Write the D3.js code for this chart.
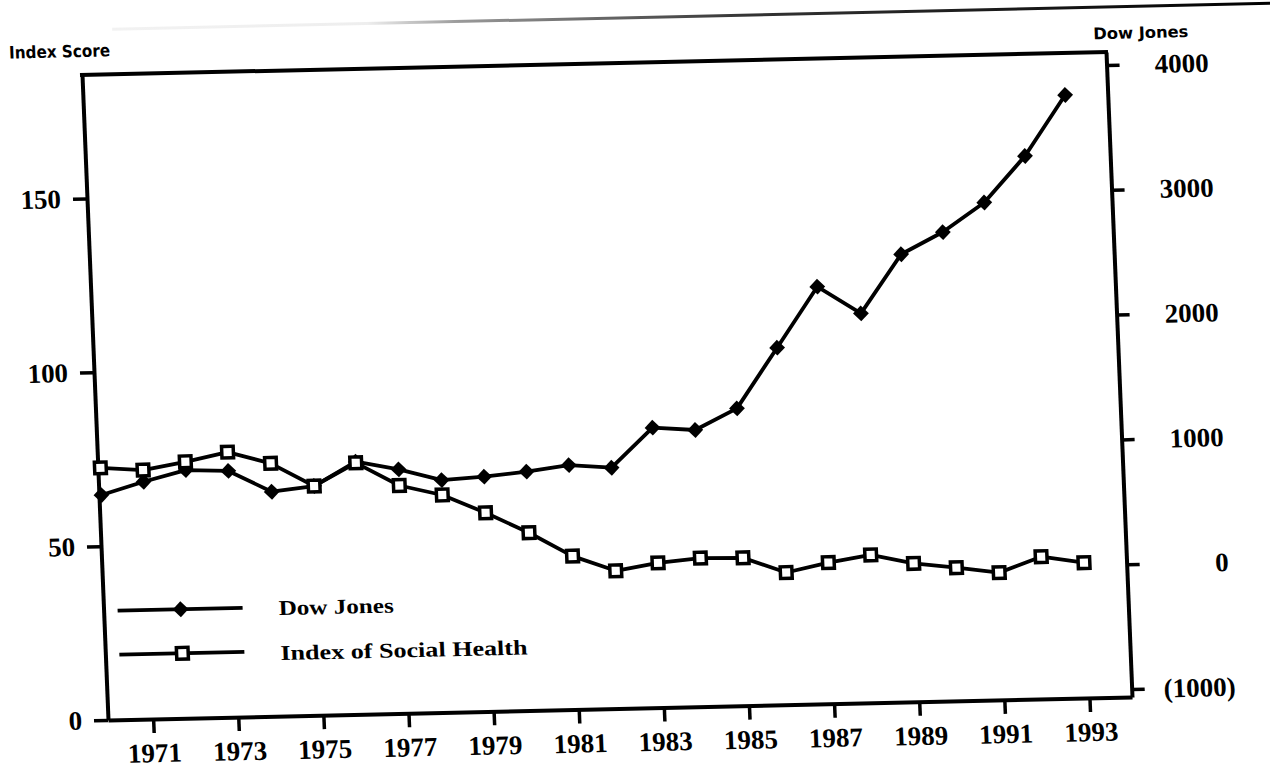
<!DOCTYPE html>
<html>
<head>
<meta charset="utf-8">
<script src="https://cdn.jsdelivr.net/npm/d3@7"></script>
<style>
  body { margin: 0; background: #fff; }
  svg { display: block; }
</style>
</head>
<body>
<div class="container"></div>
<script>
const years = [1970, 1971, 1972, 1973, 1974, 1975, 1976, 1977, 1978, 1979, 1980, 1981,
  1982, 1983, 1984, 1985, 1986, 1987, 1988, 1989, 1990, 1991, 1992, 1993];
const dowJones = [738, 837, 923, 908, 734, 772, 959, 890, 797, 816, 849, 894,
  865, 1178, 1152, 1318, 1796, 2277, 2056, 2522, 2692, 2921, 3286, 3767];
const socialHealth = [72.5, 71.6, 73.7, 76.2, 72.7, 65.9, 72.3, 65.5, 62.5, 57.1, 51.1, 44.1,
  39.6, 41.6, 42.7, 42.5, 38.0, 40.6, 42.5, 39.8, 38.3, 36.6, 40.9, 38.9];
const xTicks = [1971, 1973, 1975, 1977, 1979, 1981, 1983, 1985, 1987, 1989, 1991, 1993];
const leftTicks = [0, 50, 100, 150];
const rightTicks = [-1000, 0, 1000, 2000, 3000, 4000];
const seriesNames = ['Dow Jones', 'Index of Social Health'];

const width = 1270;
const height = 775;
const plotLeft = 108, plotRight = 1132, plotTop = 75, plotBottom = 720;

const svg = d3.select('.container')
  .append('svg')
  .attr('width', width)
  .attr('height', height);

// the page was scanned a little crooked, so everything sits in one skewed group
const g = svg.append('g')
  .attr('transform', 'matrix(1,-0.02246,0.0403,1,-29.02,2.43)');

const serif = 'Liberation Serif, Times New Roman, serif';
const sans = 'DejaVu Sans, Liberation Sans, sans-serif';

const x = d3.scaleLinear().domain([1969.94, 1994]).range([plotLeft, plotRight]);
const yLeft = d3.scaleLinear().domain([0, 185.5]).range([plotBottom, plotTop]);
const yRight = d3.scaleLinear().domain([-1064, 4104]).range([plotBottom, plotTop]);

// faint rule along the top edge of the page
const grad = svg.append('defs').append('linearGradient')
  .attr('id', 'rule')
  .attr('gradientUnits', 'userSpaceOnUse')
  .attr('x1', 140).attr('x2', 1300).attr('y1', 0).attr('y2', 0);
grad.append('stop').attr('offset', '0').attr('stop-color', '#f2f2f2');
grad.append('stop').attr('offset', '0.22').attr('stop-color', '#eee');
grad.append('stop').attr('offset', '0.3').attr('stop-color', '#999');
grad.append('stop').attr('offset', '0.55').attr('stop-color', '#333');
grad.append('stop').attr('offset', '1').attr('stop-color', '#000');
g.append('line')
  .attr('x1', 140).attr('x2', 1300)
  .attr('y1', 30).attr('y2', 30)
  .attr('stroke', 'url(#rule)')
  .attr('stroke-width', 3);

const styleAxis = (sel) => {
  sel.select('.domain').attr('stroke', '#000').attr('stroke-width', 4);
  sel.selectAll('.tick line').attr('stroke', '#000').attr('stroke-width', 3.5);
  sel.selectAll('.tick text')
    .attr('fill', '#000')
    .style('font-family', serif)
    .style('font-weight', 'bold')
    .style('font-size', '27px');
};

const xAxis = d3.axisBottom(x)
  .tickValues(xTicks)
  .tickFormat(d3.format('d'))
  .tickSize(14)
  .tickSizeOuter(0)
  .tickPadding(10);
g.append('g')
  .attr('id', 'x-axis')
  .attr('transform', `translate(0,${plotBottom})`)
  .call(xAxis)
  .call(styleAxis);

const leftAxis = d3.axisLeft(yLeft)
  .tickValues(leftTicks)
  .tickSize(14)
  .tickSizeOuter(0)
  .tickPadding(12);
g.append('g')
  .attr('id', 'y-axis-left')
  .attr('transform', `translate(${plotLeft},0)`)
  .call(leftAxis)
  .call(styleAxis);

const rightAxis = d3.axisRight(yRight)
  .tickValues(rightTicks)
  .tickFormat((d) => (d < 0 ? `(${-d})` : d))
  .tickSize(13)
  .tickSizeOuter(0);
const ra = g.append('g')
  .attr('id', 'y-axis-right')
  .attr('transform', `translate(${plotRight},0)`)
  .call(rightAxis)
  .call(styleAxis);
ra.selectAll('.tick text')
  .attr('text-anchor', 'end')
  .attr('x', (d) => (d < 0 ? 104 : 102));

// top edge of the box
g.append('line')
  .attr('x1', plotLeft - 2).attr('x2', plotRight + 2)
  .attr('y1', plotTop).attr('y2', plotTop)
  .attr('stroke', '#000')
  .attr('stroke-width', 4);

// axis titles
g.append('text')
  .attr('x', 36).attr('y', 57)
  .attr('textLength', 101)
  .attr('lengthAdjust', 'spacingAndGlyphs')
  .style('font-family', sans)
  .style('font-weight', 'bold')
  .style('font-size', '17px')
  .text('Index Score');
g.append('text')
  .attr('x', 1120).attr('y', 62)
  .attr('textLength', 95)
  .attr('lengthAdjust', 'spacingAndGlyphs')
  .style('font-family', sans)
  .style('font-weight', 'bold')
  .style('font-size', '16px')
  .text('Dow Jones');

const diamond = d3.symbol().type(d3.symbolSquare).size(125);
const square = d3.symbol().type(d3.symbolSquare).size(135);

// Dow Jones series
const dowLine = d3.line()
  .x((d, i) => x(years[i]))
  .y((d) => yRight(d));
g.append('path')
  .datum(dowJones)
  .attr('d', dowLine)
  .attr('fill', 'none')
  .attr('stroke', '#000')
  .attr('stroke-width', 3.8)
  .attr('stroke-linejoin', 'round');
g.selectAll('.dow')
  .data(dowJones)
  .enter()
  .append('path')
  .attr('class', 'dow')
  .attr('d', diamond)
  .attr('transform', (d, i) => `translate(${x(years[i])},${yRight(d)}) rotate(45)`)
  .attr('fill', '#000');

// Index of Social Health series
const ishLine = d3.line()
  .x((d, i) => x(years[i]))
  .y((d) => yLeft(d));
g.append('path')
  .datum(socialHealth)
  .attr('d', ishLine)
  .attr('fill', 'none')
  .attr('stroke', '#000')
  .attr('stroke-width', 3.8)
  .attr('stroke-linejoin', 'round');
g.selectAll('.ish')
  .data(socialHealth)
  .enter()
  .append('path')
  .attr('class', 'ish')
  .attr('d', square)
  .attr('transform', (d, i) => `translate(${x(years[i])},${yLeft(d)})`)
  .attr('fill', '#fff')
  .attr('stroke', '#000')
  .attr('stroke-width', 3.5);

// legend
const legend = g.append('g').attr('id', 'legend');
const legendRows = [
  { name: seriesNames[0], y: 611, textY: 619, len: 115, mark: diamond, rot: 45, fill: '#000' },
  { name: seriesNames[1], y: 655, textY: 664, len: 247, mark: square, rot: 0, fill: '#fff' },
];
legendRows.forEach((r) => {
  legend.append('line')
    .attr('x1', 122).attr('x2', 247)
    .attr('y1', r.y).attr('y2', r.y)
    .attr('stroke', '#000')
    .attr('stroke-width', 3.8);
  legend.append('path')
    .attr('d', r.mark)
    .attr('transform', `translate(185,${r.y}) rotate(${r.rot})`)
    .attr('fill', r.fill)
    .attr('stroke', '#000')
    .attr('stroke-width', r.rot ? 0 : 3.5);
  legend.append('text')
    .attr('x', 283).attr('y', r.textY)
    .attr('textLength', r.len)
    .attr('lengthAdjust', 'spacingAndGlyphs')
    .style('font-family', serif)
    .style('font-weight', 'bold')
    .style('font-size', '21px')
    .text(r.name);
});
</script>
</body>
</html>
